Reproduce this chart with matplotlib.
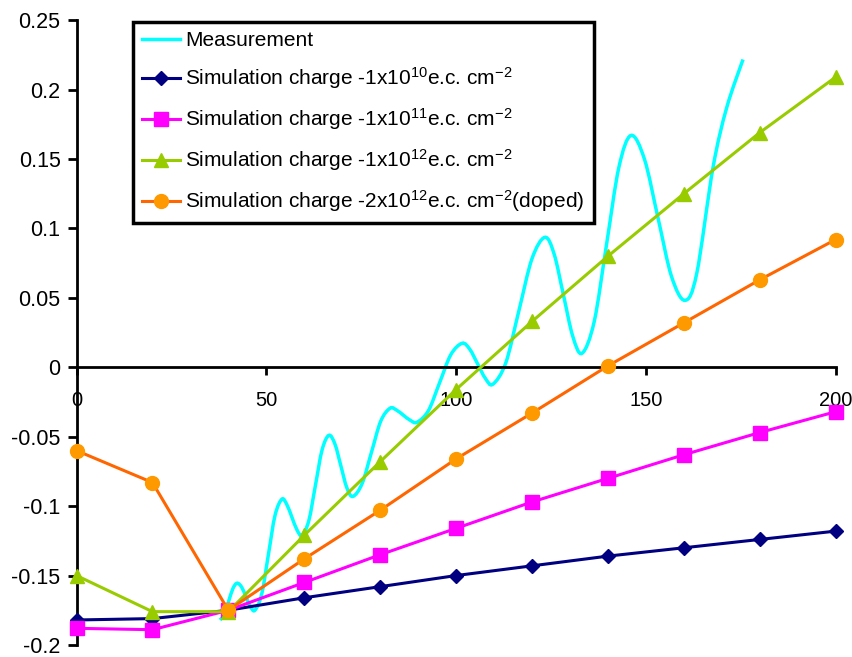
import numpy as np
import matplotlib.pyplot as plt
from matplotlib.path import Path
from matplotlib.patches import PathPatch
from matplotlib.lines import Line2D

plt.rcParams['font.family'] = ['Liberation Sans', 'DejaVu Sans']
plt.rcParams['mathtext.fontset'] = 'custom'
plt.rcParams['mathtext.rm'] = 'Liberation Sans'
plt.rcParams['mathtext.it'] = 'Liberation Sans'

# simulation points
x_sim = [0, 20, 40, 60, 80, 100, 120, 140, 160, 180, 200]
sim_1e10 = [-0.182, -0.181, -0.175, -0.166, -0.158, -0.150, -0.143, -0.136, -0.130, -0.124, -0.118]
sim_1e11 = [-0.188, -0.189, -0.175, -0.155, -0.135, -0.116, -0.097, -0.080, -0.063, -0.047, -0.032]
sim_1e12 = [-0.150, -0.176, -0.176, -0.121, -0.068, -0.016, 0.033, 0.080, 0.125, 0.169, 0.209]
sim_2e12 = [-0.060, -0.083, -0.175, -0.138, -0.103, -0.066, -0.033, 0.001, 0.032, 0.063, 0.092]

x_meas = [37.8, 38.9, 40.05, 41.2, 42.3, 43.5, 44.65, 45.8, 47.0, 48.8, 50.55, 52.3,
          54.1, 55.4, 56.75, 58.1, 59.4, 61.2, 62.95, 64.7, 66.5, 68.1, 69.65, 71.2,
          72.8, 75.25, 77.7, 80.15, 82.6, 84.4, 86.15, 87.9, 89.7, 92.7, 95.65, 98.6,
          101.6, 103.6, 105.65, 107.7, 109.7, 113.1, 116.55, 120.0, 123.4, 125.85, 128.3,
          130.75, 133.2, 136.4, 139.65, 142.9, 146.1, 149.65, 153.2, 156.75, 160.3,
          163.4, 167.7, 171.3, 175.6]
y_meas = [-0.182, -0.1781, -0.1688, -0.1594, -0.1555, -0.1583, -0.1653, -0.1722, -0.175,
          -0.1633, -0.135, -0.1067, -0.095, -0.0988, -0.108, -0.1172, -0.121, -0.1105,
          -0.085, -0.0595, -0.049, -0.0554, -0.071, -0.0866, -0.093, -0.0837, -0.0613,
          -0.0388, -0.0295, -0.031, -0.0346, -0.0381, -0.0396, -0.0313, -0.0112, 0.009,
          0.0173, 0.013, 0.0026, -0.0079, -0.0122, 0.0032, 0.0407, 0.0782, 0.0936, 0.0814,
          0.0519, 0.0223, 0.0101, 0.033, 0.0886, 0.1441, 0.167, 0.1497, 0.1076, 0.0655,
          0.0482, 0.0675, 0.144, 0.187, 0.2217]

labels = ['Measurement',
          r'Simulation charge -1x10$^{\mathrm{10}}$e.c. cm$^{\mathrm{-2}}$',
          r'Simulation charge -1x10$^{\mathrm{11}}$e.c. cm$^{\mathrm{-2}}$',
          r'Simulation charge -1x10$^{\mathrm{12}}$e.c. cm$^{\mathrm{-2}}$',
          r'Simulation charge -2x10$^{\mathrm{12}}$e.c. cm$^{\mathrm{-2}}$(doped)']


def smooth_path(xs, ys):
    # excel-like smoothed line: bezier segments through the points
    p = np.column_stack([xs, ys])
    verts = [p[0]]
    codes = [Path.MOVETO]
    n = len(p)
    for i in range(n - 1):
        p0 = p[i - 1] if i > 0 else p[i]
        p3 = p[i + 2] if i + 2 < n else p[i + 1]
        c1 = p[i] + (p[i + 1] - p0) / 6
        c2 = p[i + 1] - (p3 - p[i]) / 6
        verts += [c1, c2, p[i + 1]]
        codes += [Path.CURVE4] * 3
    return Path(verts, codes)


fig = plt.figure(figsize=(8.52, 6.57), dpi=100)
ax = fig.add_axes([0.0898, 0.0183, 0.891, 0.951])

meas = PathPatch(smooth_path(x_meas, y_meas), facecolor='none', edgecolor='#00FFFF',
                 lw=2.5, zorder=2)
ax.add_patch(meas)
ax.plot(x_sim, sim_1e10, color='#000080', lw=2.2, marker='D', ms=7,
        label=labels[1], clip_on=False, zorder=3)
ax.plot(x_sim, sim_1e11, color='#FF00FF', lw=2.2, marker='s', ms=10,
        label=labels[2], clip_on=False, zorder=3)
ax.plot(x_sim, sim_1e12, color='#99CC00', lw=2.2, marker='^', ms=10,
        label=labels[3], clip_on=False, zorder=3)
ax.plot(x_sim, sim_2e12, color='#FF6600', lw=2.2, marker='o', ms=10,
        mfc='#FF9900', mec='#FF9900', label=labels[4], clip_on=False, zorder=3)

ax.set_xlim(0, 200)
ax.set_ylim(-0.2, 0.25)
ax.set_xticks([0, 50, 100, 150, 200])
ax.set_xticklabels(['0', '50', '100', '150', '200'])
ax.set_yticks(np.arange(-0.2, 0.2501, 0.05))
ax.set_yticklabels(['-0.2', '-0.15', '-0.1', '-0.05', '0', '0.05', '0.1', '0.15', '0.2', '0.25'])

ax.spines['top'].set_visible(False)
ax.spines['right'].set_visible(False)
ax.spines['bottom'].set_position(('data', 0))
ax.spines['bottom'].set_linewidth(2)
ax.spines['left'].set_linewidth(2)
ax.tick_params(axis='both', direction='out', width=2)
ax.tick_params(axis='x', length=6, pad=11, labelsize=14.5)
ax.tick_params(axis='y', length=6.5, pad=5, labelsize=15.5)

handles, _ = ax.get_legend_handles_labels()
handles = [Line2D([], [], color='#00FFFF', lw=2.5)] + handles
leg = ax.legend(handles, labels, loc='upper left', bbox_to_anchor=(0.074, 0.997),
                borderaxespad=0, fontsize=15, fancybox=False, edgecolor='black',
                framealpha=1, handlelength=1.8, labelspacing=0.72, borderpad=0.45,
                handletextpad=0.25)
leg.get_frame().set_linewidth(2.5)

fig.savefig('out.png', dpi=100)
